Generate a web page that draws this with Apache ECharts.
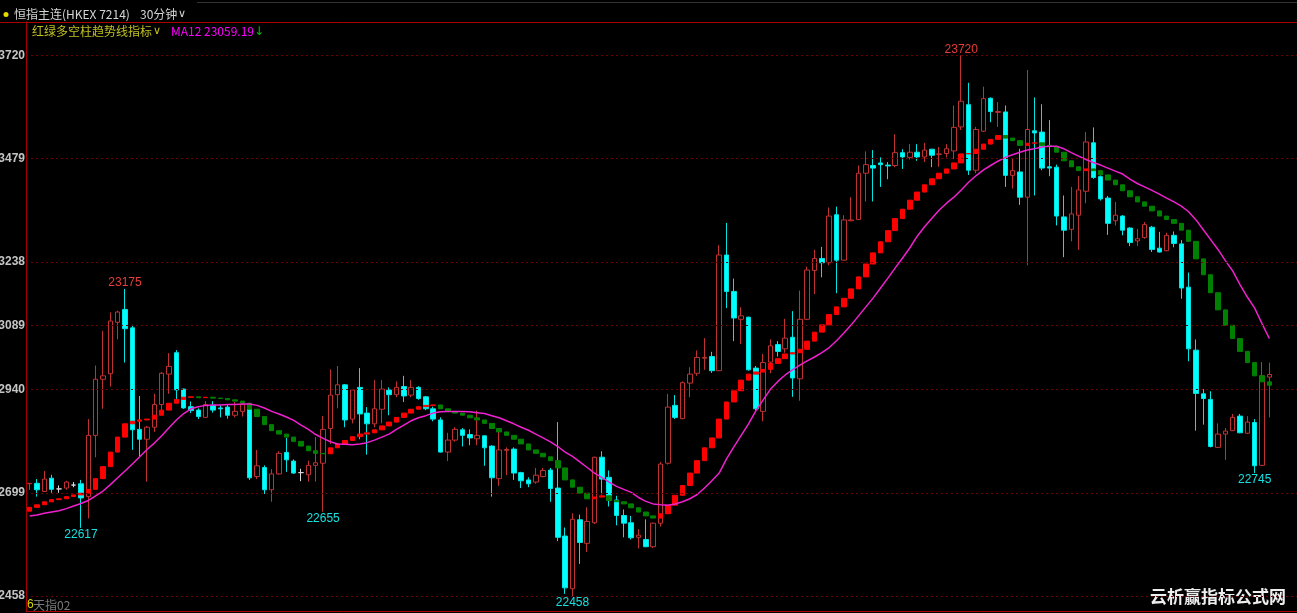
<!DOCTYPE html>
<html><head><meta charset="utf-8">
<script src="https://cdn.jsdelivr.net/npm/echarts@6/dist/echarts.min.js"></script>
<style>html,body{margin:0;padding:0;background:#000;overflow:hidden}#c{width:1297px;height:613px}</style>
</head><body><div id="c"></div>
<script>
// ---- data (30-minute bars) ----
const opens = [22720,22721,22702,22733,22708,22710,22717,22720,22690,22833,22964,22977,23097,23127,23084,22847,22824,22852,22905,22976,
23026,22941,22900,22892,22875,22903,22897,22899,22880,22889,22905,22737,22758,22706,22743,22793,22773,22746,22741,22763,
22768,22849,22928,22951,22871,22945,22885,22860,22894,22939,22928,22947,22927,22945,22923,22895,22869,22794,22822,22846,
22835,22825,22832,22808,22732,22798,22801,22746,22729,22724,22737,22752,22710,22598,22475,22636,22581,22629,22782,22735,
22682,22646,22629,22595,22590,22573,22628,22768,22903,22872,22955,22978,23013,23017,22984,23254,23169,23104,23109,22990,
22889,23004,23045,23035,23062,22965,23104,23218,23246,23236,23348,23242,23334,23337,23445,23463,23469,23464,23463,23493,
23482,23494,23483,23501,23489,23491,23497,23553,23605,23452,23543,23620,23587,23588,23440,23448,23389,23544,23541,23460,
23459,23343,23314,23347,23403,23516,23437,23387,23334,23345,23317,23287,23295,23319,23270,23264,23300,23280,23179,23032,
22930,22917,22805,22836,22844,22878,22838,22863,22763,22969];
const closes = [22721,22706,22731,22707,22708,22724,22717,22687,22833,22964,22972,23100,23121,23082,22846,22824,22852,22905,22978,22994,
22939,22897,22891,22877,22905,22892,22895,22880,22889,22905,22734,22762,22706,22743,22791,22776,22745,22746,22763,22769,
22847,22927,22951,22869,22939,22883,22860,22895,22941,22928,22945,22925,22945,22919,22895,22871,22794,22822,22847,22833,
22827,22833,22804,22734,22799,22800,22745,22727,22720,22740,22751,22709,22595,22477,22637,22583,22632,22782,22731,22682,
22646,22628,22594,22600,22573,22628,22766,22899,22875,22956,22976,23015,23015,22984,23254,23169,23107,23112,22986,22895,
23003,23042,23029,23060,22967,23104,23219,23246,23236,23345,23242,23336,23336,23445,23465,23457,23465,23462,23493,23483,
23494,23483,23499,23487,23490,23502,23552,23613,23452,23547,23619,23589,23589,23440,23451,23389,23547,23539,23457,23457,
23345,23312,23350,23406,23518,23435,23385,23328,23347,23312,23283,23292,23325,23267,23261,23300,23281,23177,23035,22931,
22919,22807,22836,22843,22875,22839,22864,22762,22972,22975];
const highs = [22722,22731,22750,22741,22716,22727,22724,22729,22871,22996,23077,23120,23124,23175,23091,22925,22855,22930,22981,23025,
23032,22942,22912,22896,22913,22913,22904,22906,22911,22911,22909,22799,22763,22754,22796,22827,22777,22755,22774,22829,
22878,22987,22995,22953,22941,22990,22899,22962,22962,22945,22959,22972,22962,22948,22925,22900,22875,22839,22852,22850,
22847,22891,22833,22810,22841,22805,22805,22748,22735,22757,22757,22757,22864,22618,22651,22648,22665,22783,22796,22751,
22692,22660,22645,22614,22637,22629,22771,22930,22927,22959,22992,23031,23060,23028,23277,23329,23199,23132,23110,22995,
23023,23057,23053,23105,23123,23171,23227,23266,23273,23365,23367,23347,23389,23463,23496,23499,23482,23471,23536,23501,
23513,23513,23516,23502,23506,23513,23603,23720,23656,23553,23647,23622,23611,23603,23479,23502,23686,23622,23606,23569,
23465,23393,23413,23438,23541,23552,23440,23392,23378,23347,23319,23315,23331,23322,23308,23306,23309,23289,23213,23057,
22941,22936,22861,22850,22883,22883,22878,22871,23004,23003];
const lows = [22706,22690,22702,22699,22699,22706,22712,22617,22639,22782,22895,22947,23057,23003,22799,22783,22725,22841,22892,22930,
22916,22895,22885,22871,22874,22886,22875,22872,22875,22877,22729,22731,22696,22678,22741,22748,22743,22726,22725,22725,
22655,22813,22896,22852,22861,22824,22788,22852,22861,22880,22922,22911,22922,22916,22892,22866,22793,22773,22818,22807,
22810,22810,22762,22690,22715,22740,22729,22710,22712,22720,22735,22678,22586,22463,22458,22533,22561,22626,22695,22667,
22623,22595,22590,22569,22572,22570,22620,22765,22871,22871,22922,22972,22986,22979,22983,23130,23053,23046,22984,22891,
22866,22978,23017,23026,22923,22914,23102,23163,23202,23230,23165,23241,23333,23336,23379,23379,23413,23431,23459,23455,
23477,23474,23471,23459,23460,23482,23478,23546,23441,23445,23541,23564,23553,23413,23409,23371,23230,23393,23452,23438,
23323,23249,23286,23266,23375,23432,23381,23301,23323,23300,23275,23275,23292,23261,23260,23263,23272,23152,23006,22844,
22858,22805,22804,22776,22843,22838,22836,22745,22762,22875];
// bars whose open equals close, drawn white
const dojiWhite = [4, 6, 37];
// 红绿多空柱 trend line (each bar spans previous value -> current value)
const trendStart = 22656;
const trend = [22665,22671,22678,22683,22685,22690,22694,22698,22707,22732,22760,22794,22829,22860,22866,22869,22871,22880,22892,22908,
22917,22922,22923,22921,22922,22920,22919,22916,22913,22908,22894,22877,22858,22844,22836,22829,22819,22808,22797,22791,
22790,22804,22813,22821,22830,22836,22839,22846,22855,22864,22875,22885,22894,22900,22903,22904,22895,22889,22885,22880,
22874,22869,22861,22849,22841,22833,22824,22813,22799,22791,22783,22774,22757,22729,22712,22698,22685,22689,22692,22681,
22678,22673,22664,22654,22645,22640,22650,22670,22693,22716,22745,22774,22804,22827,22871,22911,22937,22962,22976,22981,
22987,23001,23012,23023,23026,23034,23053,23074,23091,23115,23133,23153,23175,23203,23233,23259,23285,23311,23339,23361,
23382,23401,23418,23432,23445,23455,23469,23490,23491,23501,23513,23524,23533,23527,23521,23510,23515,23516,23510,23507,
23494,23474,23460,23451,23455,23451,23441,23429,23418,23404,23390,23378,23368,23357,23345,23337,23328,23312,23286,23245,
23208,23166,23126,23090,23059,23029,23003,22972,22958,22950];
const ma12 = [22645,22647,22651,22654,22657,22662,22668,22674,22681,22692,22703,22718,22734,22750,22766,22783,22800,22815,22832,22851,
22869,22884,22895,22900,22903,22904,22904,22905,22905,22906,22906,22903,22897,22889,22883,22876,22868,22857,22847,22835,
22826,22818,22813,22812,22811,22813,22816,22822,22829,22836,22847,22857,22867,22874,22879,22885,22888,22889,22889,22889,
22888,22886,22884,22879,22874,22867,22860,22852,22845,22836,22827,22818,22807,22794,22784,22771,22758,22745,22735,22724,
22714,22707,22700,22688,22679,22673,22671,22670,22673,22678,22685,22695,22710,22727,22745,22778,22806,22833,22860,22890,
22916,22941,22959,22974,22986,22997,23007,23016,23026,23038,23054,23072,23091,23112,23133,23154,23177,23200,23224,23247,
23271,23298,23320,23340,23359,23375,23389,23406,23424,23439,23452,23463,23473,23482,23488,23494,23499,23502,23506,23508,
23508,23502,23493,23485,23477,23470,23464,23457,23450,23443,23431,23421,23413,23405,23396,23387,23378,23368,23355,23336,
23313,23290,23267,23241,23217,23185,23156,23130,23094,23059.19];
const yTicks = [22458, 22699, 22940, 23089, 23238, 23479, 23720];
const peakHighs = [13, 127];          // bars whose high is labelled
const peakLows = [7, 40, 74, 167];    // bars whose low is labelled
const categories = opens.map((_, i) => String(i));

// ---- build series data ----
const candleData = categories.map((c, i) => {
  const v = [opens[i], closes[i], lows[i], highs[i]];
  if (dojiWhite.includes(i)) {
    return {value: v, itemStyle: {color: '#d8d8d8', color0: '#d8d8d8', borderColor: '#d8d8d8', borderColor0: '#d8d8d8'}};
  }
  return v;
});
const trendData = trend.map((t, i) => {
  const p = i === 0 ? trendStart : trend[i - 1];
  return [p, t, Math.min(p, t), Math.max(p, t)];
});
const markPts = [];
peakHighs.forEach(i => markPts.push({coord: [categories[i], highs[i]], value: highs[i],
  label: {position: 'top', distance: 0, color: '#e83c3c'}}));
peakLows.forEach(i => markPts.push({coord: [categories[i], lows[i]], value: lows[i],
  label: {position: 'bottom', distance: 1, color: '#18e0e0'}}));

const Y_MIN = 22423, Y_MAX = 23798;
const chart = echarts.init(document.getElementById('c'), null, {renderer: 'canvas'});
chart.setOption({
  backgroundColor: '#000',
  animation: false,
  grid: [
    {left: 26, right: 24, top: 22, bottom: 2},
    {left: 26, right: 0, top: 22, bottom: 2}
  ],
  xAxis: [
    {gridIndex: 0, type: 'category', data: categories, boundaryGap: true, show: false},
    {gridIndex: 1, type: 'value', min: 0, max: 1, axisLine: {show: true, onZero: false, lineStyle: {color: '#a80000'}},
      axisTick: {show: false}, axisLabel: {show: false}, splitLine: {show: false}},
    {gridIndex: 1, type: 'value', position: 'top', min: 0, max: 1, axisLine: {show: true, onZero: false, lineStyle: {color: '#a80000'}},
      axisTick: {show: false}, axisLabel: {show: false}, splitLine: {show: false}}
  ],
  yAxis: [
    {gridIndex: 0, type: 'value', min: Y_MIN, max: Y_MAX, show: false},
    {gridIndex: 1, type: 'value', min: Y_MIN, max: Y_MAX, axisLine: {show: true, onZero: false, lineStyle: {color: '#a80000'}},
      axisTick: {show: false}, axisLabel: {show: false}, splitLine: {show: false}}
  ],
  series: [
    {
      name: 'grid', type: 'line', xAxisIndex: 1, yAxisIndex: 1, data: [[0, yTicks[0]]],
      showSymbol: false, lineStyle: {width: 0}, silent: true, z: 1,
      markLine: {
        silent: true, symbol: ['none', 'none'], animation: false,
        lineStyle: {color: '#700000', type: [2, 3], width: 1},
        label: {position: 'start', distance: 1, color: '#c4c4c4', fontSize: 12, fontWeight: 'bold',
          fontFamily: 'Liberation Sans, Arial, sans-serif', formatter: p => String(p.value)},
        data: yTicks.map(v => ({yAxis: v}))
      }
    },
    {
      name: 'K', type: 'candlestick', xAxisIndex: 0, yAxisIndex: 0, data: candleData, barWidth: 5, z: 2,
      itemStyle: {color: '#000000', borderColor: '#c03232', color0: '#00ffff', borderColor0: '#00e4e4', borderWidth: 1},
      markPoint: {
        symbol: 'circle', symbolSize: 0, silent: true, animation: false,
        itemStyle: {color: 'rgba(0,0,0,0)'},
        label: {show: true, fontSize: 12, fontFamily: 'Liberation Sans, Arial, sans-serif', formatter: p => String(p.value)},
        data: markPts
      }
    },
    {
      name: '红绿多空柱', type: 'candlestick', xAxisIndex: 0, yAxisIndex: 0, data: trendData, barWidth: 5, z: 3,
      itemStyle: {color: '#ff0000', borderColor: '#ff0000', color0: '#008000', borderColor0: '#008000', borderWidth: 1}
    },
    {
      name: 'MA12', type: 'line', xAxisIndex: 0, yAxisIndex: 0, data: ma12, showSymbol: false, z: 4,
      lineStyle: {color: '#f020d0', width: 1.5}
    }
  ],
  graphic: [
    {type: 'line', shape: {x1: 197, y1: 2.5, x2: 1297, y2: 2.5}, style: {stroke: '#333', lineWidth: 1}, silent: true},
    {type: 'line', shape: {x1: 0, y1: 22.5, x2: 26, y2: 22.5}, style: {stroke: '#a80000', lineWidth: 1}, silent: true},
    {type: 'circle', shape: {cx: 6, cy: 14.5, r: 2.5}, style: {fill: '#e8d800'}, silent: true},
    {type: 'text', x: 14, y: 14.5, style: {text: '恒指主连(HKEX 7214)', fill: '#d4d4d4', font: '12px "Noto Sans CJK SC"', verticalAlign: 'middle', align: 'left'}},
    {type: 'text', x: 140, y: 14.5, style: {text: '30分钟', fill: '#d4d4d4', font: '12px "Noto Sans CJK SC"', verticalAlign: 'middle', align: 'left'}},
    {type: 'text', x: 178, y: 14.5, style: {text: '∨', fill: '#d4d4d4', font: '11px "DejaVu Sans"', verticalAlign: 'middle', align: 'left'}},
    {type: 'text', x: 32, y: 31.5, style: {text: '红绿多空柱趋势线指标', fill: '#c0c020', font: '12px "Noto Sans CJK SC"', verticalAlign: 'middle', align: 'left'}},
    {type: 'text', x: 153, y: 31.5, style: {text: '∨', fill: '#c0c020', font: '11px "DejaVu Sans"', verticalAlign: 'middle', align: 'left'}},
    {type: 'text', x: 171, y: 31.5, style: {text: 'MA12 23059.19', fill: '#ff00ff', font: '12px "Noto Sans CJK SC"', verticalAlign: 'middle', align: 'left'}},
    {type: 'text', x: 254, y: 31.5, style: {text: '↓', fill: '#00c000', font: '12px "DejaVu Sans"', verticalAlign: 'middle', align: 'left'}},
    {type: 'text', x: 27, y: 605, style: {text: '6', fill: '#d8d800', font: '12px "Liberation Sans"', verticalAlign: 'middle', align: 'left'}},
    {type: 'text', x: 33, y: 605, style: {text: '天指02', fill: '#7a7a7a', font: '12px "Noto Sans CJK SC"', verticalAlign: 'middle', align: 'left'}},
    {type: 'text', x: 1150, y: 597, style: {text: '云析赢指标公式网', fill: '#eeeeee', font: 'bold 17px "Noto Sans CJK SC"', verticalAlign: 'middle', align: 'left'}}
  ]
});
</script>
</body></html>
